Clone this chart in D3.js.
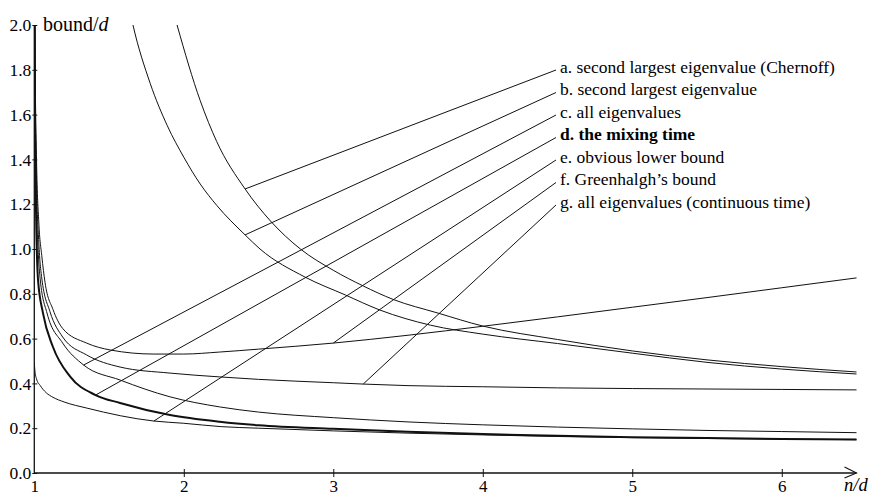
<!DOCTYPE html>
<html><head><meta charset="utf-8">
<script src="https://cdn.jsdelivr.net/npm/d3@7"></script>
<style>
body{margin:0;background:#fff}
svg{display:block}
text{font-family:"Liberation Serif","Times New Roman",serif;fill:#000}
</style>
</head><body>
<svg id="chart" width="876" height="497"></svg>
<script>
// ---- data ----
const xTicks = [1, 2, 3, 4, 5, 6];
const yTicks = [0, 0.2, 0.4, 0.6, 0.8, 1.0, 1.2, 1.4, 1.6, 1.8, 2.0];
const labels = [
  "a. second largest eigenvalue (Chernoff)",
  "b. second largest eigenvalue",
  "c. all eigenvalues",
  "d. the mixing time",
  "e. obvious lower bound",
  "f. Greenhalgh\u2019s bound",
  "g. all eigenvalues (continuous time)"
];
// n/d position where each label's leader line meets its curve
const labelAnchorX = [2.41, 2.41, 1.33, 1.41, 1.8, 3.0, 3.2];

const aX = [1.93, 1.955, 2.11, 2.22, 2.41, 2.58, 2.78, 3.0, 3.2, 3.4, 3.7, 4.0, 4.5, 5.0, 5.5, 6.0, 6.5];
const aY = [2.06, 2.0, 1.662, 1.48, 1.268, 1.125, 1.0, 0.905, 0.835, 0.775, 0.714, 0.656, 0.596, 0.545, 0.505, 0.475, 0.451];

const bX = [1.64, 1.66, 1.775, 1.89, 2.0, 2.11, 2.22, 2.41, 2.51, 2.81, 3.08, 3.31, 3.65, 4.0, 4.5, 5.0, 5.5, 6.0, 6.5];
const bY = [2.06, 2.0, 1.74, 1.55, 1.41, 1.29, 1.195, 1.063, 1.0, 0.875, 0.795, 0.728, 0.66, 0.62, 0.578, 0.535, 0.494, 0.464, 0.442];

const cX = [1.0, 1.005, 1.012, 1.025, 1.04, 1.085, 1.19, 1.33, 1.574, 1.908, 2.24, 2.5, 3.0, 3.5, 4.0, 4.5, 5.0, 5.5, 6.0, 6.5];
const cY = [2.6, 1.7, 1.25, 1.0, 0.862, 0.714, 0.58, 0.482, 0.415, 0.34, 0.295, 0.272, 0.247, 0.228, 0.215, 0.205, 0.197, 0.19, 0.185, 0.18];

const dX = [1.0, 1.004, 1.012, 1.025, 1.058, 1.125, 1.24, 1.41, 1.574, 1.908, 2.24, 2.5, 3.0, 3.5, 4.0, 4.5, 5.0, 5.5, 6.0, 6.5];
const dY = [2.6, 1.6, 1.15, 0.862, 0.714, 0.5625, 0.43, 0.348, 0.3125, 0.259, 0.229, 0.213, 0.197, 0.184, 0.174, 0.166, 0.16, 0.156, 0.152, 0.15];

const eX = [1.0, 1.005, 1.015, 1.04, 1.08, 1.125, 1.2, 1.35, 1.8, 2.0, 2.25, 2.5, 3.0, 3.5, 4.0, 4.5, 5.0, 5.5, 6.0, 6.5];
const eY = [0.49, 0.45, 0.42, 0.39, 0.358, 0.338, 0.317, 0.29, 0.232, 0.222, 0.207, 0.2, 0.188, 0.178, 0.17, 0.163, 0.158, 0.154, 0.151, 0.149];

const fX = [1.0, 1.005, 1.015, 1.03, 1.05, 1.072, 1.125, 1.19, 1.35, 1.51, 1.8, 2.0, 2.24, 2.5, 3.0, 3.5, 4.0, 4.5, 5.0, 5.5, 6.0, 6.5];
const fY = [2.6, 1.9, 1.4, 1.12, 0.97, 0.85, 0.73, 0.645, 0.58, 0.549, 0.531, 0.531, 0.54, 0.553, 0.58, 0.615, 0.655, 0.697, 0.74, 0.783, 0.827, 0.871];

const gX = [1.0, 1.005, 1.015, 1.03, 1.05, 1.105, 1.19, 1.35, 1.574, 1.908, 2.24, 2.5, 3.0, 3.2, 3.5, 4.0, 4.5, 5.0, 5.5, 6.0, 6.5];
const gY = [2.6, 1.8, 1.3, 1.03, 0.87, 0.72, 0.607, 0.527, 0.473, 0.446, 0.429, 0.418, 0.403, 0.397, 0.39, 0.385, 0.38, 0.377, 0.375, 0.373, 0.371];

// ---- layout ----
const svg = d3.select("#chart");
const x = d3.scaleLinear().domain([1, 6.5]).range([34.3, 856.5]);
const y = d3.scaleLinear().domain([0, 2]).range([473, 25]);

const series = [
  {xs: aX, ys: aY, w: 1},
  {xs: bX, ys: bY, w: 1},
  {xs: cX, ys: cY, w: 1},
  {xs: dX, ys: dY, w: 2},
  {xs: eX, ys: eY, w: 1},
  {xs: fX, ys: fY, w: 1},
  {xs: gX, ys: gY, w: 1}
];

svg.append("defs").append("clipPath").attr("id", "plot")
  .append("rect").attr("x", x(1)).attr("y", y(2)).attr("width", x(6.5) - x(1) + 1).attr("height", y(0) - y(2));

const line = d3.line().x(d => x(d[0])).y(d => y(d[1])).curve(d3.curveMonotoneX);

const g = svg.append("g").attr("clip-path", "url(#plot)");
series.forEach(s => {
  g.append("path")
    .attr("d", line(s.xs.map((v, i) => [v, s.ys[i]])))
    .attr("fill", "none").attr("stroke", "#111").attr("stroke-width", s.w);
});

// leader lines and labels
const labelX = 560, labelBase0 = 72.5, labelStep = 22.5;
labels.forEach((t, i) => {
  const s = series[i];
  const ax = labelAnchorX[i];
  const ay = s.ys[s.xs.indexOf(ax)];
  const by = labelBase0 + i * labelStep;
  svg.append("line")
    .attr("x1", x(ax)).attr("y1", y(ay)).attr("x2", labelX - 4).attr("y2", by - 2.5)
    .attr("stroke", "#111").attr("stroke-width", 1);
  svg.append("text").attr("x", labelX).attr("y", by)
    .attr("font-size", 17.5).attr("font-weight", i === 3 ? "bold" : "normal").text(t);
});

// x axis
const xa = svg.append("g").attr("transform", `translate(0,${y(0)})`)
  .call(d3.axisBottom(x).tickValues(xTicks).tickFormat(d3.format("d")).tickSizeOuter(0).tickSizeInner(4));
xa.select(".domain").remove();
xa.selectAll(".tick line").attr("y1", -4).attr("y2", 4).attr("stroke", "#111");
xa.selectAll(".tick").filter(d => d === 1).select("line").remove();
xa.selectAll(".tick text").attr("y", 19).attr("dy", 0).attr("font-size", 17)
  .style("font-family", '"Liberation Serif","Times New Roman",serif').attr("fill", "#000");
svg.append("line").attr("x1", x(1)).attr("x2", x(6.5)).attr("y1", y(0)).attr("y2", y(0))
  .attr("stroke", "#111").attr("stroke-width", 1.3);
svg.append("path")
  .attr("d", `M${x(6.5) - 12},${y(0) - 6}L${x(6.5)},${y(0)}L${x(6.5) - 12},${y(0) + 5}`)
  .attr("fill", "none").attr("stroke", "#111").attr("stroke-width", 1.1);
const nd = svg.append("text").attr("x", 844).attr("y", 491).attr("font-size", 18.5).attr("font-style", "italic");
nd.text("n/d");

// y axis
const ya = svg.append("g").attr("transform", `translate(${x(1)},0)`)
  .call(d3.axisLeft(y).tickValues(yTicks).tickFormat(d3.format(".1f")).tickSizeOuter(0));
ya.select(".domain").remove();
ya.selectAll(".tick line").attr("x1", -2).attr("x2", 3).attr("stroke", "#111");
ya.selectAll(".tick text").attr("x", -3).attr("font-size", 17.5)
  .style("font-family", '"Liberation Serif","Times New Roman",serif').attr("fill", "#000");
svg.append("line").attr("x1", x(1)).attr("x2", x(1)).attr("y1", y(0)).attr("y2", y(2))
  .attr("stroke", "#111").attr("stroke-width", 1.3);
const bl = svg.append("text").attr("x", 43).attr("y", 31).attr("font-size", 20);
bl.append("tspan").text("bound/");
bl.append("tspan").attr("font-style", "italic").text("d");
</script>
</body></html>
